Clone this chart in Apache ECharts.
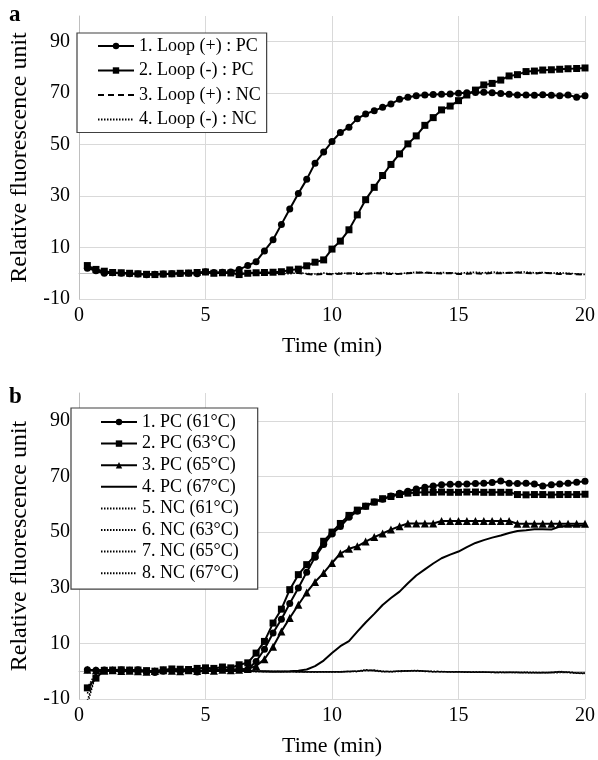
<!DOCTYPE html>
<html><head><meta charset="utf-8">
<script src="https://cdn.jsdelivr.net/npm/echarts@6/dist/echarts.min.js"></script>
<style>html,body{margin:0;padding:0;background:#fff}#c{width:598px;height:760px}</style>
</head><body><div id="c"></div>
<script>
const time = [0.33,0.67,1,1.33,1.67,2,2.33,2.67,3,3.33,3.67,4,4.33,4.67,5,5.33,5.67,6,6.33,6.67,7,7.33,7.67,8,8.33,8.67,9,9.33,9.67,10,10.33,10.67,11,11.33,11.67,12,12.33,12.67,13,13.33,13.67,14,14.33,14.67,15,15.33,15.67,16,16.33,16.67,17,17.33,17.67,18,18.33,18.67,19,19.33,19.67,20];

// Panel a
const loopPlusPC  = [2.0,1.0,0.0,0.2,0.0,-0.2,-0.3,-0.6,-0.4,-0.3,-0.2,-0.1,0.0,-0.2,0.6,0.3,0.4,0.5,1.5,3.0,4.5,8.7,13.0,19.0,25.0,31.0,36.5,42.8,47.1,51.2,54.7,56.8,60.1,61.9,63.2,64.5,65.8,67.6,68.4,69.0,69.3,69.5,69.6,69.7,70.0,70.2,70.3,70.4,70.2,69.9,69.6,69.3,69.3,69.2,69.4,69.2,69.0,69.3,68.4,69.0];
const loopMinusPC = [3.0,1.5,0.8,0.3,0.2,0.0,-0.2,-0.4,-0.5,-0.3,-0.2,0.0,0.1,0.3,0.5,0.0,0.2,0.1,-0.5,0.0,0.2,0.3,0.4,0.6,1.3,1.6,2.9,4.3,5.2,9.4,12.5,16.9,22.7,28.6,33.4,38.0,42.3,46.4,50.3,53.4,57.5,60.5,63.5,65.0,67.1,69.3,71.2,73.2,73.8,75.1,76.7,77.2,78.4,78.6,79.0,79.1,79.3,79.5,79.6,79.8];
const loopPlusNC  = [2.5,1.2,0.5,0.2,0.0,-0.2,-0.3,-0.4,-0.4,-0.3,-0.2,0.0,0.0,0.1,0.3,0.2,0.2,0.1,0.0,0.1,0.2,0.1,0.0,0.2,0.3,0.1,-0.3,-0.5,-0.2,-0.4,-0.2,0.0,-0.3,-0.2,0.1,-0.1,-0.3,-0.2,0.0,0.2,0.3,0.1,-0.1,0.1,-0.3,-0.2,0.0,-0.2,0.1,0.0,0.2,0.3,0.1,-0.1,0.2,0.0,-0.3,-0.2,-0.4,-0.6];
const loopMinusNC = [2.2,1.0,0.3,0.1,-0.1,-0.3,-0.2,-0.5,-0.3,-0.2,0.0,0.1,-0.1,0.2,0.4,0.1,0.3,0.2,0.1,0.0,-0.1,0.2,0.1,0.0,-0.2,0.2,-0.1,-0.3,0.1,-0.2,0.1,-0.1,0.2,-0.2,0.0,0.3,0.0,-0.2,0.2,0.4,0.2,0.0,0.3,0.2,0.0,0.3,0.4,0.2,0.5,0.3,0.1,0.4,0.5,0.2,0.3,0.1,0.2,0.0,-0.2,-0.5];

// Panel b
const pc61 = [0.5,0.3,0.4,0.3,0.4,0.3,0.5,0.0,-0.5,0.0,0.3,0.2,0.4,-0.3,0.2,0.4,0.6,0.5,0.8,0.7,3.5,7.9,13.7,18.7,24.3,29.9,35.6,41.0,45.5,49.3,52.0,55.3,57.5,59.3,60.8,61.8,63.0,64.0,64.7,65.5,66.1,66.6,67.0,67.2,67.2,67.3,67.5,67.6,67.8,68.4,67.6,67.5,67.6,67.3,66.6,67.0,67.3,67.6,67.9,68.3];
const pc63 = [-6.0,-2.5,0.3,0.4,0.5,0.4,0.4,0.2,0.0,0.5,0.8,0.7,0.6,1.0,1.2,1.0,1.5,1.2,2.3,3.0,6.5,10.7,17.3,22.3,29.3,34.7,38.3,41.6,46.7,50.0,53.1,56.0,57.9,59.3,60.8,62.0,62.8,63.5,64.0,64.2,64.3,64.3,64.4,64.3,64.3,64.4,64.4,64.3,64.3,64.3,64.3,63.5,63.4,63.5,63.5,63.4,63.5,63.5,63.5,63.6];
const pc65 = [0.5,0.3,0.2,0.3,0.1,0.2,0.0,-0.2,0.1,0.3,0.2,0.0,0.3,0.1,0.4,0.2,0.5,0.3,0.5,0.8,1.9,4.3,8.8,14.3,19.1,23.9,28.3,32.1,35.3,38.9,42.3,44.0,44.9,46.6,48.2,49.5,50.9,52.1,53.1,53.1,53.1,53.1,54.0,54.0,54.0,54.0,54.0,54.0,54.0,54.0,54.0,53.0,53.0,53.0,53.0,53.0,53.0,53.0,53.0,53.0];
const pc67 = [0.3,0.2,0.2,0.1,0.1,0.0,0.0,0.1,-0.1,0.0,0.1,0.0,0.1,0.0,0.1,0.2,0.1,0.2,0.2,0.1,0.0,0.0,-0.1,-0.1,0.0,0.2,0.6,1.8,3.8,6.5,9.0,10.8,14.2,17.5,20.6,23.8,26.3,28.6,31.6,34.4,36.6,38.7,40.6,41.9,43.0,44.6,46.1,47.1,48.0,48.8,49.7,50.4,50.7,51.0,51.0,50.9,52.0,52.3,52.3,52.4];
const nc61 = [-8.0,-0.8,0.3,0.2,0.1,0.0,0.1,0.0,-0.1,0.0,0.1,0.0,0.1,0.0,0.0,0.1,0.0,0.0,0.1,0.0,0.0,-0.1,-0.1,-0.2,-0.1,-0.2,-0.2,-0.3,-0.2,-0.3,-0.3,-0.2,-0.1,0.3,0.2,-0.1,-0.2,-0.1,0.0,0.2,0.1,-0.1,-0.2,-0.2,-0.3,-0.3,-0.3,-0.4,-0.4,-0.4,-0.4,-0.5,-0.5,-0.5,-0.5,-0.6,-0.5,-0.4,-0.6,-0.7];
const nc63 = [-6.0,-0.5,0.2,0.3,0.2,0.1,0.0,0.1,0.0,0.1,0.0,0.1,0.2,0.1,0.0,0.0,0.1,0.1,0.0,0.1,-0.1,-0.1,-0.2,-0.1,-0.1,-0.2,-0.3,-0.2,-0.3,-0.2,-0.3,-0.1,0.0,0.5,0.1,-0.2,-0.1,0.0,0.1,0.3,0.0,-0.2,-0.1,-0.3,-0.2,-0.3,-0.4,-0.3,-0.4,-0.5,-0.4,-0.4,-0.5,-0.6,-0.5,-0.5,-0.3,-0.5,-0.7,-0.8];
const nc65 = [-10.5,-1.2,0.1,0.2,0.2,0.0,0.0,0.1,0.1,0.0,0.0,0.2,0.1,0.0,0.1,0.0,0.1,0.0,0.0,0.0,0.0,-0.2,-0.2,-0.1,-0.2,-0.3,-0.2,-0.3,-0.3,-0.2,-0.2,0.0,-0.1,0.2,0.4,0.0,-0.2,0.1,0.2,0.1,-0.1,-0.1,-0.2,-0.2,-0.2,-0.4,-0.3,-0.3,-0.5,-0.4,-0.5,-0.5,-0.4,-0.5,-0.6,-0.4,-0.2,-0.3,-0.6,-0.7];
const nc67 = [-12.0,-1.0,0.2,0.1,0.0,0.1,0.1,0.0,0.0,0.1,0.1,0.0,0.0,0.1,0.1,0.1,0.0,0.1,0.1,0.0,-0.1,-0.1,-0.1,-0.2,-0.2,-0.2,-0.3,-0.3,-0.2,-0.3,-0.2,-0.1,0.0,0.4,0.3,-0.1,-0.1,0.0,0.2,0.2,0.0,-0.2,-0.2,-0.3,-0.3,-0.3,-0.4,-0.4,-0.4,-0.5,-0.5,-0.5,-0.6,-0.6,-0.6,-0.5,-0.1,-0.4,-0.7,-0.9];

const namesA = ['1. Loop (+) : PC','2. Loop (-) : PC','3. Loop (+) : NC','4. Loop (-) : NC'];
const namesB = ['1. PC (61°C)','2. PC (63°C)','3. PC (65°C)','4. PC (67°C)','5. NC (61°C)','6. NC (63°C)','7. NC (65°C)','8. NC (67°C)'];
const panelLabels = ['a','b'];
const yName = 'Relative fluorescence unit';
const xName = 'Time (min)';

const F = 'Liberation Serif';
const pts = arr => time.map((t, i) => [t, arr[i]]);
const noMarker = new Set();

function mk(name, arr, panel, sym, size, ls) {
  if (sym === 'none') noMarker.add(name);
  return {
    name, type: 'line', xAxisIndex: panel, yAxisIndex: panel, data: pts(arr),
    symbol: sym, symbolSize: size, showSymbol: sym !== 'none',
    lineStyle: Object.assign({color: '#000', width: 2}, ls || {}),
    itemStyle: {color: '#000'}, animation: false, clip: true
  };
}

const dotted = {type: [1.5, 1.5], width: 1.5};
const series = [
  mk(namesA[0], loopPlusPC, 0, 'circle', 7),
  mk(namesA[1], loopMinusPC, 0, 'rect', 7),
  mk(namesA[2], loopPlusNC, 0, 'none', 0, {type: [6, 4], width: 2}),
  mk(namesA[3], loopMinusNC, 0, 'none', 0, dotted),
  mk(namesB[0], pc61, 1, 'circle', 7),
  mk(namesB[1], pc63, 1, 'rect', 7),
  mk(namesB[2], pc65, 1, 'triangle', 8),
  mk(namesB[3], pc67, 1, 'none', 0),
  mk(namesB[4], nc61, 1, 'none', 0, dotted),
  mk(namesB[5], nc63, 1, 'none', 0, dotted),
  mk(namesB[6], nc65, 1, 'none', 0, dotted),
  mk(namesB[7], nc67, 1, 'none', 0, dotted)
];

const legendItems = names => names.map(n => noMarker.has(n) ? {name: n, itemStyle: {opacity: 0}} : {name: n});

const grids = [
  {left: 65, top: 16, width: 520, height: 283},
  {left: 65, top: 393, width: 520, height: 306}
];

function mainX(i) {
  return {
    gridIndex: i, type: 'value', min: 0, max: 20, interval: 5, position: 'bottom',
    axisLine: {show: false, onZero: false}, axisTick: {show: false},
    axisLabel: {fontFamily: F, fontSize: 20, color: '#000', margin: 7},
    splitLine: {show: true, lineStyle: {color: '#d9d9d9', width: 1}},
    name: xName, nameLocation: 'middle', nameGap: 36,
    nameTextStyle: {fontFamily: F, fontSize: 22, color: '#000'}
  };
}
function zeroX(i) {
  return {
    gridIndex: i, type: 'value', min: 0, max: 20, position: 'bottom',
    axisLine: {show: true, onZero: true, lineStyle: {color: '#bfbfbf', width: 1}},
    axisTick: {show: false}, axisLabel: {show: false}, splitLine: {show: false}
  };
}
function mainY(i) {
  return {
    gridIndex: i, type: 'value', min: -10, max: 100, interval: 20,
    axisLine: {show: true, lineStyle: {color: '#bfbfbf', width: 1}}, axisTick: {show: false},
    axisLabel: {fontFamily: F, fontSize: 20, color: '#000', margin: 9, showMaxLabel: false},
    splitLine: {show: true, showMaxLine: false, lineStyle: {color: '#d9d9d9', width: 1}},
    name: yName, nameLocation: 'middle', nameGap: 47,
    nameTextStyle: {fontFamily: F, fontSize: 24, color: '#000'}
  };
}

const option = {
  animation: false,
  backgroundColor: '#fff',
  title: [
    {text: panelLabels[0], left: 9, top: 4, padding: 0, textStyle: {fontFamily: F, fontSize: 23, fontWeight: 'bold', color: '#000'}},
    {text: panelLabels[1], left: 9, top: 386, padding: 0, textStyle: {fontFamily: F, fontSize: 23, fontWeight: 'bold', color: '#000'}}
  ],
  grid: grids,
  xAxis: [mainX(0), mainX(1), zeroX(0), zeroX(1)],
  yAxis: [mainY(0), mainY(1)],
  legend: [
    {data: legendItems(namesA), orient: 'vertical', left: 77, top: 33, padding: [3, 6, 3, 20],
     itemWidth: 36, itemHeight: 8, itemGap: 4.5, backgroundColor: '#fff',
     borderColor: '#404040', borderWidth: 1.2, selectedMode: false,
     textStyle: {fontFamily: F, fontSize: 18, color: '#000', lineHeight: 20}},
    {data: legendItems(namesB), orient: 'vertical', left: 71, top: 408, padding: [5, 19, 7, 29],
     itemWidth: 36, itemHeight: 8, itemGap: 3.6, backgroundColor: '#fff',
     borderColor: '#404040', borderWidth: 1.2, selectedMode: false,
     textStyle: {fontFamily: F, fontSize: 18, color: '#000', lineHeight: 18}}
  ],
  series
};

const chart = echarts.init(document.getElementById('c'), null, {renderer: 'canvas'});
chart.setOption(option);
</script>
</body></html>
